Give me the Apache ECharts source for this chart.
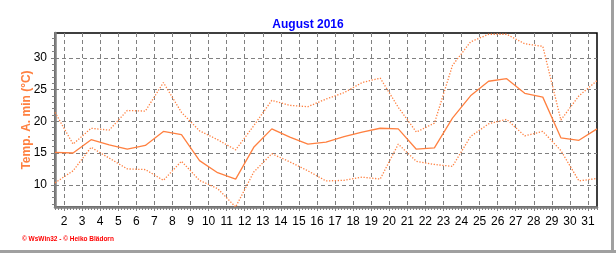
<!DOCTYPE html>
<html><head><meta charset="utf-8">
<script src="https://cdn.jsdelivr.net/npm/echarts@6/dist/echarts.min.js"></script>
<style>html,body{margin:0;padding:0;background:#fff}#c{width:616px;height:253px}</style>
</head><body><div id="c"></div>
<script>
const titleText = 'August 2016';
const yName = 'Temp. A. min (°C)';
const footerText = '\u00A9 WsWin32 - \u00A9 Heiko Blädorn';
const days = [1,2,3,4,5,6,7,8,9,10,11,12,13,14,15,16,17,18,19,20,21,22,23,24,25,26,27,28,29,30,31];
const xTickDays = [2,3,4,5,6,7,8,9,10,11,12,13,14,15,16,17,18,19,20,21,22,23,24,25,26,27,28,29,30,31];
const yTickValues = [10,15,20,25,30];
const avgMin  = [15.1,15.0,17.1,16.3,15.6,16.2,18.4,17.9,13.8,11.9,10.9,15.9,18.8,17.5,16.4,16.7,17.6,18.3,18.9,18.8,15.6,15.8,20.5,24.0,26.3,26.7,24.4,23.8,17.4,17.0,18.8];
const highMin = [21.4,16.4,18.9,18.6,21.7,21.6,26.1,21.4,18.5,17.1,15.5,19.3,23.3,22.5,22.3,23.5,24.5,26.1,26.8,22.2,18.3,19.7,28.8,32.5,33.7,33.7,32.2,31.8,20.2,24.0,26.4];
const lowMin  = [10.3,12.2,15.9,14.2,12.5,12.4,10.7,13.7,10.7,9.4,6.5,12.0,14.9,13.6,12.2,10.6,10.7,11.2,10.9,16.4,13.7,13.2,12.9,17.6,19.6,20.3,17.7,18.4,15.4,10.6,11.0];

const X_MIN = 1.5, X_MAX = 31.5, Y_MIN = 6.5, Y_MAX = 33.9;
const minorX = [];
for (let k = Math.round(X_MIN * 6); k <= Math.round(X_MAX * 6); k++) minorX.push(k / 6);
const minorY = [];
for (let v = Math.ceil(Y_MIN); v <= Math.floor(Y_MAX); v++) minorY.push(v);

const ORANGE = '#FF8040';
const GRAY = '#808080';
const FONT = '"Liberation Sans", Arial, sans-serif';
const pts = arr => days.map((d, i) => [d + 0.5, arr[i]]);

const chart = echarts.init(document.getElementById('c'), null, {renderer: 'canvas'});
chart.setOption({
  animation: false,
  backgroundColor: '#fff',
  title: {text: titleText, left: 'center', top: 14,
    textStyle: {color: '#0000FF', fontSize: 12, fontWeight: 'bold', fontFamily: FONT}},
  grid: {left: 55, right: 19, top: 33, bottom: 46, show: true, borderColor: '#000', borderWidth: 1.5},
  xAxis: [{
    type: 'value', min: X_MIN, max: X_MAX,
    axisLine: {show: true, onZero: false, lineStyle: {color: GRAY, width: 2.5}},
    axisTick: {show: true, customValues: xTickDays, length: 4, lineStyle: {color: GRAY}},
    axisLabel: {customValues: xTickDays, color: '#000', fontSize: 12, margin: 9, fontFamily: FONT},
    splitLine: {show: true, lineStyle: {color: GRAY, type: [4, 3], width: 1}}
  }, {
    type: 'value', min: X_MIN, max: X_MAX, position: 'bottom',
    axisLine: {show: false},
    axisTick: {show: true, customValues: minorX, length: 3, lineStyle: {color: GRAY}},
    axisLabel: {show: false}, splitLine: {show: false}
  }],
  yAxis: [{
    type: 'value', min: Y_MIN, max: Y_MAX,
    name: yName, nameLocation: 'middle', nameGap: 22, nameMoveOverlap: false,
    nameTextStyle: {color: ORANGE, fontSize: 12, fontWeight: 'bold', fontFamily: FONT},
    axisLine: {show: true, onZero: false, lineStyle: {color: GRAY, width: 2.5}},
    axisTick: {show: true, customValues: yTickValues, length: 4, lineStyle: {color: GRAY}},
    axisLabel: {customValues: yTickValues, color: '#000', fontSize: 12, margin: 8, fontFamily: FONT},
    splitLine: {show: true, lineStyle: {color: GRAY, type: [4, 3], width: 1}}
  }, {
    type: 'value', min: Y_MIN, max: Y_MAX, position: 'left',
    axisLine: {show: false},
    axisTick: {show: true, customValues: minorY, length: 3, lineStyle: {color: GRAY}},
    axisLabel: {show: false}, splitLine: {show: false}
  }],
  series: [
    {type: 'line', data: pts(highMin), symbol: 'none', lineStyle: {color: ORANGE, width: 1.3, type: [1.3, 1.6]}},
    {type: 'line', data: pts(lowMin), symbol: 'none', lineStyle: {color: ORANGE, width: 1.3, type: [1.3, 1.6]}},
    {type: 'line', data: pts(avgMin), symbol: 'none', lineStyle: {color: ORANGE, width: 1.3}}
  ],
  graphic: [
    {type: 'rect', shape: {x: 611, y: 0, width: 3, height: 253}, style: {fill: '#a0a0a0'}},
    {type: 'rect', shape: {x: 0, y: 250, width: 616, height: 3}, style: {fill: '#a0a0a0'}},
    {type: 'text', left: 22, top: 236, style: {text: footerText, fill: '#FF0000', fontSize: 6.5, fontWeight: 'bold', fontFamily: FONT}}
  ]
});
</script></body></html>
